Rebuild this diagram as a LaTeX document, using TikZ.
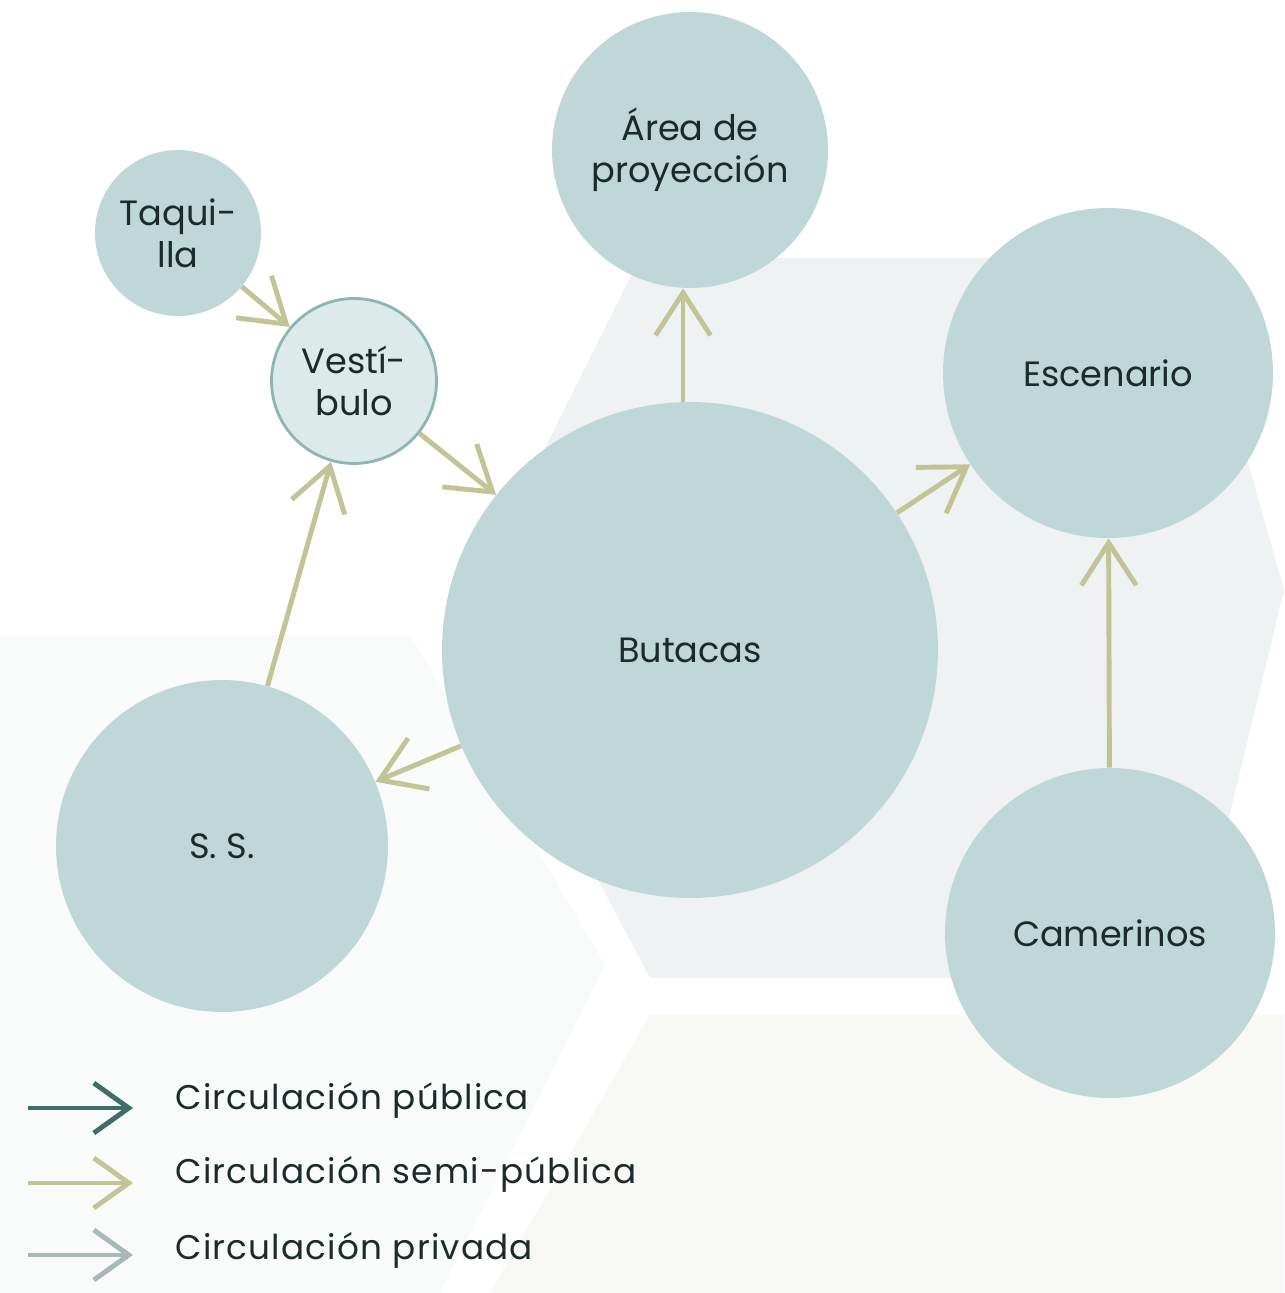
\documentclass[tikz,border=0pt]{standalone}
\usepackage{fontspec}
\setmainfont{Poppins}
\usetikzlibrary{arrows.meta}
\definecolor{circ}{HTML}{BFD8D7}
\definecolor{vest}{HTML}{DCEBEA}
\definecolor{vestb}{HTML}{8FB5B2}
\definecolor{olive}{HTML}{C2C496}
\definecolor{pub}{HTML}{3F6E68}
\definecolor{priv}{HTML}{A8B8B7}
\definecolor{txt}{HTML}{1C2A2A}
\definecolor{hexg}{HTML}{EEF2F3}
\definecolor{hexl}{HTML}{F9FBFB}
\definecolor{hexb}{HTML}{F8F9F5}
\begin{document}
\begin{tikzpicture}[x=0.02cm,y=-0.02cm,
  room/.style={circle,fill=circ,inner sep=0pt,align=center,text=txt,font=\fontsize{20}{24}\selectfont},
  flow/.style={olive,line width=2.8pt,-{Straight Barb[length=0.85cm,width=1.1cm]}},
  legarrow/.style={line width=2.8pt,-{Straight Barb[length=0.7cm,width=1.0cm]}},
  legtext/.style={anchor=west,text=txt,inner sep=0pt,font=\fontsize{19.5}{24}\selectfont\addfontfeature{LetterSpace=3.5}}]
\useasboundingbox (0,0) rectangle (1284,1293);
\fill[white] (0,0) rectangle (1284,1293);
% background hexagons
\fill[hexl] (0,635) -- (410,635) -- (605,965) -- (440,1293) -- (0,1293) -- cycle;
\fill[hexb] (650,1015) -- (1284,1015) -- (1284,1293) -- (490,1293) -- cycle;
\fill[hexg] (640,258) -- (1190,258) -- (1284,590) -- (1190,978) -- (650,978) -- (460,618) -- cycle;
% rooms
\node[room,minimum size=3.32cm] (taq) at (178,233) {Taqui-\\lla};
\node[room,minimum size=3.3cm,fill=vest,draw=vestb,line width=1.6pt] (vest) at (354,381) {Vestí-\\bulo};
\node[room,minimum size=5.52cm] (area) at (690,150) {Área de\\proyección};
\node[room,minimum size=6.6cm] (esc) at (1108,373) {Escenario};
\node[room,minimum size=9.92cm] (but) at (690,650) {Butacas};
\node[room,minimum size=6.64cm] (ss) at (222,846) {S. S.};
\node[room,minimum size=6.6cm] (cam) at (1110,933) {Camerinos};
% connectors
\draw[flow] (taq) -- (vest);
\draw[flow] (vest) -- (but);
\draw[flow] (ss) -- (vest);
\draw[flow] (but) -- (ss);
\draw[flow] (but.north -| 683,0) -- (area.south -| 683,0);
\draw[flow] (but) -- (esc);
\draw[flow] (cam) -- (esc);
% legend
\coordinate (l1s) at (28,1108); \coordinate (l1e) at (133,1108);
\coordinate (l2s) at (28,1183); \coordinate (l2e) at (133,1183);
\coordinate (l3s) at (28,1255); \coordinate (l3e) at (133,1255);
\draw[legarrow,pub] (l1s) -- (l1e);
\draw[legarrow,olive] (l2s) -- (l2e);
\draw[legarrow,priv] (l3s) -- (l3e);
\node[legtext] (t1) at (175,1100) {Circulación pública};
\node[legtext] (t2) at (175,1174) {Circulación semi-pública};
\node[legtext] (t3) at (175,1250) {Circulación privada};
\end{tikzpicture}
\end{document}
